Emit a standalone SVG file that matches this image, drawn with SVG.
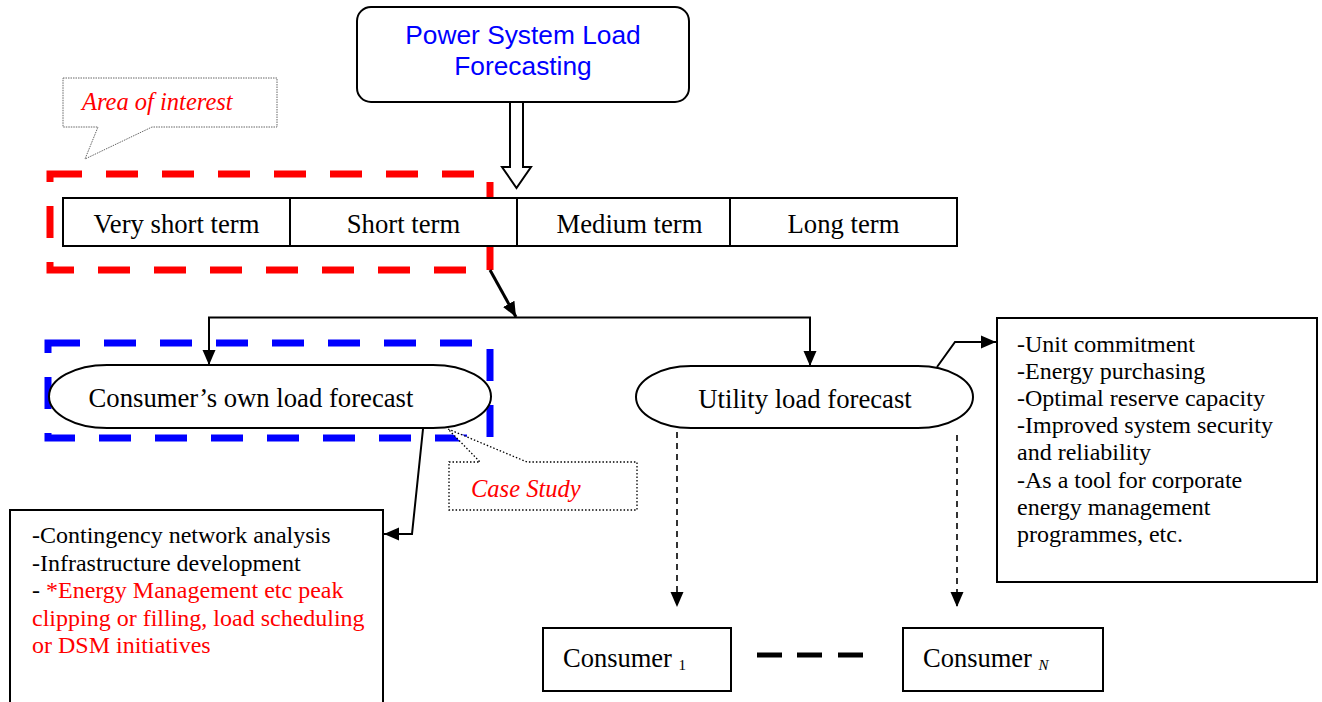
<svg xmlns="http://www.w3.org/2000/svg" width="1322" height="702" viewBox="0 0 1322 702">
  <style>
    .box { fill: #fff; stroke: #000; stroke-width: 2; }
    .t { font-family: "Liberation Serif", "Times New Roman", serif; fill: #000; }
    .term { font-size: 26.7px; text-anchor: middle; }
    .list { font-size: 24px; }
    .note { font-family: "Liberation Serif", "Times New Roman", serif; font-style: italic; font-size: 24.5px; fill: #ff0000; }
    .red { fill: #ff0000; }
    .conn { fill: none; stroke: #000; stroke-width: 2; }
    .dash { fill: none; stroke: #000; stroke-width: 1.6; stroke-dasharray: 6 5; }
  </style>
  <defs>
    <marker id="tri" markerUnits="userSpaceOnUse" markerWidth="16" markerHeight="16" viewBox="0 0 16 16" refX="15" refY="8" orient="auto">
      <path d="M0,1.5 L15,8 L0,14.5 Z" fill="#000"/>
    </marker>
  </defs>

  <rect width="1322" height="702" fill="#fff"/>

  <!-- highlight frames -->
  <g id="area-of-interest-frame">
    <rect x="50" y="174" width="440" height="96" fill="none" stroke="#ff0000" stroke-width="7" stroke-dasharray="32 24"/>
  </g>
  <g id="case-study-frame">
    <rect x="48" y="343" width="442" height="95" fill="none" stroke="#0000ff" stroke-width="7" stroke-dasharray="32 24"/>
  </g>

  <!-- top node -->
  <g id="power-system-load-forecasting">
    <rect class="box" x="357" y="7" width="332" height="95" rx="14"/>
    <text x="523" y="44" font-family="Liberation Sans, Arial, sans-serif" font-size="26.3" fill="#0000ff" text-anchor="middle">Power System Load</text>
    <text x="523" y="75" font-family="Liberation Sans, Arial, sans-serif" font-size="26.3" fill="#0000ff" text-anchor="middle">Forecasting</text>
  </g>

  <!-- forecasting horizons -->
  <g id="horizons">
    <rect class="box" x="63" y="198" width="894" height="48"/>
    <line x1="290" y1="198" x2="290" y2="246" stroke="#000" stroke-width="2"/>
    <line x1="517" y1="198" x2="517" y2="246" stroke="#000" stroke-width="2"/>
    <line x1="730" y1="198" x2="730" y2="246" stroke="#000" stroke-width="2"/>
    <text class="t term" x="176.5" y="233">Very short term</text>
    <text class="t term" x="403.5" y="233">Short term</text>
    <text class="t term" x="629.5" y="233">Medium term</text>
    <text class="t term" x="843.5" y="233">Long term</text>
  </g>

  <!-- connectors -->
  <g id="connectors">
    <polygon points="510,102 523,102 523,167 531,167 516.5,188 502,167 510,167" fill="#fff" stroke="#000" stroke-width="2"/>
    <line x1="490" y1="270" x2="516" y2="317" stroke="#000" stroke-width="3" marker-end="url(#tri)"/>
    <polyline class="conn" points="209,365 209,317.5 810,317.5 810,365"/>
    <line x1="209" y1="330" x2="209" y2="365" class="conn" marker-end="url(#tri)"/>
    <line x1="810" y1="330" x2="810" y2="366" class="conn" marker-end="url(#tri)"/>
    <polyline class="conn" points="937,367 955,342 996,342" marker-end="url(#tri)"/>
    <polyline class="conn" points="423,429 412,534 384,534" marker-end="url(#tri)"/>
    <line class="dash" x1="677" y1="432" x2="677" y2="607" marker-end="url(#tri)"/>
    <line class="dash" x1="957" y1="435" x2="957" y2="607" marker-end="url(#tri)"/>
    <g stroke="#000" stroke-width="5">
      <line x1="757" y1="655" x2="782" y2="655"/>
      <line x1="797" y1="655" x2="822" y2="655"/>
      <line x1="838" y1="655" x2="863" y2="655"/>
    </g>
  </g>

  <!-- forecast types -->
  <g id="consumer-own-load-forecast">
    <rect class="box" x="49" y="365" width="442" height="63" rx="58" ry="31.5"/>
    <text class="t term" x="251" y="407">Consumer’s own load forecast</text>
  </g>
  <g id="utility-load-forecast">
    <rect class="box" x="636" y="366" width="337" height="62" rx="55" ry="31"/>
    <text class="t term" x="805" y="408">Utility load forecast</text>
  </g>

  <!-- applications -->
  <g id="utility-applications">
    <rect class="box" x="997" y="318" width="320" height="264"/>
    <text class="t list" x="1017" y="352">-Unit commitment</text>
    <text class="t list" x="1017" y="379">-Energy purchasing</text>
    <text class="t list" x="1017" y="406">-Optimal reserve capacity</text>
    <text class="t list" x="1017" y="433">-Improved system security</text>
    <text class="t list" x="1017" y="460">and reliability</text>
    <text class="t list" x="1017" y="488">-As a tool for corporate</text>
    <text class="t list" x="1017" y="515">energy management</text>
    <text class="t list" x="1017" y="542">programmes, etc.</text>
  </g>
  <g id="consumer-applications">
    <rect class="box" x="10" y="510" width="373" height="200"/>
    <text class="t list" x="32" y="543">-Contingency network analysis</text>
    <text class="t list" x="32" y="571">-Infrastructure development</text>
    <text class="t list" x="32" y="598">- <tspan class="red">*Energy Management etc peak</tspan></text>
    <text class="t list red" x="32" y="626">clipping or filling, load scheduling</text>
    <text class="t list red" x="32" y="653">or DSM initiatives</text>
  </g>

  <!-- consumers -->
  <g id="consumer-1">
    <rect class="box" x="543" y="628" width="188" height="63"/>
    <text class="t" x="563" y="667" font-size="26.5">Consumer <tspan font-size="15" dy="3">1</tspan></text>
  </g>
  <g id="consumer-n">
    <rect class="box" x="903" y="628" width="200" height="63"/>
    <text class="t" x="923" y="667" font-size="26.5">Consumer <tspan font-size="15" font-style="italic" dy="3">N</tspan></text>
  </g>

  <!-- callouts -->
  <g id="callout-area-of-interest">
    <polygon points="63,78 277,78 277,127 152,127 85,159 98,127 63,127" fill="#fff" stroke="#666" stroke-width="1" stroke-dasharray="1.5 1"/>
    <text class="note" x="82" y="110">Area of interest</text>
  </g>
  <g id="callout-case-study">
    <polygon points="449,462 480,462 448,429 527,462 637,462 637,510 449,510" fill="#fff" stroke="#000" stroke-width="1.3" stroke-dasharray="1.5 2"/>
    <text class="note" x="471" y="497">Case Study</text>
  </g>
</svg>
